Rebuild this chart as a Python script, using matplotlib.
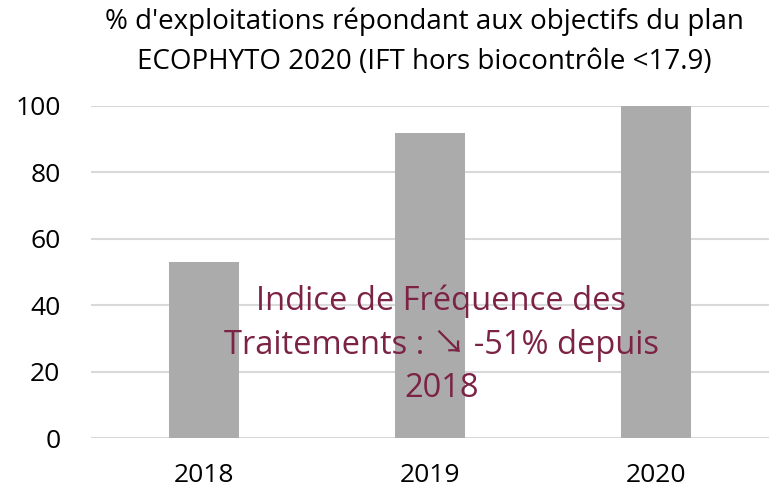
import matplotlib
matplotlib.use("Agg")
import matplotlib.pyplot as plt

categories = ["2018", "2019", "2020"]
values = [53, 92, 100]
yticks = [0, 20, 40, 60, 80, 100]
title = "% d'exploitations répondant aux objectifs du plan\nECOPHYTO 2020 (IFT hors biocontrôle <17.9)"
note = "Indice de Fréquence des\nTraitements : \u2198 -51% depuis\n2018"

plt.rcParams['font.family'] = ['Open Sans', 'DejaVu Sans']

fig = plt.figure(figsize=(7.69, 4.93), dpi=100)
ax = fig.add_axes([91 / 769, 1 - 438 / 493, (769 - 91) / 769, (438 - 106) / 493])

x = list(range(len(categories)))
ax.bar(x, values, width=0.31, color="#ABABAB", zorder=2)
ax.set_xlim(-0.5, 2.5)
ax.set_ylim(0, 100)
ax.set_yticks(yticks)
ax.set_xticks(x)
ax.set_xticklabels(categories)
ax.yaxis.grid(True, color="#D9D9D9", linewidth=1.5, zorder=0)
for s in ax.spines.values():
    s.set_visible(False)
ax.tick_params(axis="both", length=0, labelsize=19, colors="black")
ax.tick_params(axis="y", pad=22)
ax.tick_params(axis="x", pad=18)

fig.text(0.552, 0.985, title, ha="center", va="top", fontsize=20, linespacing=1.6)

ax.text(1.05, 28, note, ha="center", va="center", fontsize=23.5, color="#7B2245",
        linespacing=1.42, zorder=3,
        family=['Open Sans', 'Noto Sans CJK SC', 'DejaVu Sans'])

fig.savefig("out.png", dpi=100)
